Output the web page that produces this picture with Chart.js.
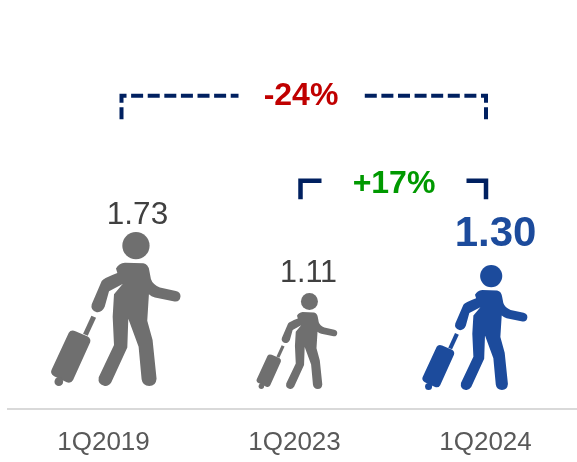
<!DOCTYPE html>
<html>
<head>
<meta charset="utf-8">
<script src="https://cdn.jsdelivr.net/npm/chart.js@4"></script>
<style>
    html, body { margin: 0; padding: 0; background: #fff; overflow: hidden; width: 577px; height: 462px; }
    canvas { display: block; }
</style>
</head>
<body>
<canvas id="travellers" width="581" height="462"></canvas>
<script>
const categories = ['1Q2019', '1Q2023', '1Q2024'];
const travellers = [1.73, 1.11, 1.30];
const valueLabels = ['1.73', '1.11', '1.30'];
const changes = ['-24%', '+17%'];

// the pictograms are not quite placed or sized to scale in the original
const iconColors = ['#6F6F6F', '#6F6F6F', '#1C4B9C'];
const iconScale = [1, 0.972, 1.08];
const iconDx = [12.5, 2.5, -10.5];
const iconDy = [-2, 1, 2];
const labelDx = [34, 14, 10];
const labelGap = [19, 16, 38];
const labelFonts = ['31.5px', '30.5px', 'bold 42px'];
const labelColors = ['#404040', '#404040', '#1C4B9C'];

// outline traced in a 463 tall box, feet at y = 588
const bodyPath = new Path2D('M228 235 Q236 219 255 217 L310 219 Q325 222 328 240 L333 266 Q338 282 360 292 ' +
    'L408 302 Q423 306 422 319 Q420 336 404 334 L345 322 Q334 319 327 312 L322 392 L338 450 L350 566 ' +
    'Q348 588 328 588 Q308 588 305 568 L296 470 L265 386 L262 472 L214 577 Q205 590 194 588 Q172 584 176 562 ' +
    'L222 465 L218 380 L222 312 L248 281 L207 303 L194 350 Q186 368 170 366 Q150 360 155 342 L185 272 Q190 264 232 248 Z');
const casePath = new Path2D('M86 428 Q92 418 106 423 L143 439 Q154 446 150 457 L99 570 Q93 581 80 577 ' +
    'L42 559 Q28 550 35 538 Z');
const handlePath = new Path2D('M154 377 L168 383 L143 437 L129 431 Z');

function drawTraveller(ctx, x, base, height, color) {
    const k = height / 463;
    ctx.save();
    ctx.translate(x, base);
    ctx.scale(k, k);
    ctx.translate(-228, -588);
    ctx.fillStyle = color;
    ctx.beginPath();
    ctx.arc(288, 166, 41, 0, Math.PI * 2);
    ctx.fill();
    ctx.fill(bodyPath);
    ctx.fill(casePath);
    ctx.fill(handlePath);
    ctx.beginPath();
    ctx.arc(56, 575, 13, 0, Math.PI * 2);
    ctx.fill();
    ctx.restore();
}

const pictogramPlugin = {
    id: 'pictograms',
    afterDatasetsDraw(chart) {
        const ctx = chart.ctx;
        chart.getDatasetMeta(0).data.forEach((bar, i) => {
            const h = (bar.base - bar.y) * iconScale[i];
            drawTraveller(ctx, bar.x + iconDx[i], bar.base + iconDy[i], h, iconColors[i]);
            ctx.save();
            ctx.font = labelFonts[i] + ' "Liberation Sans", Arial, sans-serif';
            ctx.fillStyle = labelColors[i];
            ctx.textAlign = 'center';
            ctx.textBaseline = 'middle';
            ctx.fillText(valueLabels[i], bar.x + labelDx[i], bar.y - labelGap[i]);
            ctx.restore();
        });
    }
};

const bracketPlugin = {
    id: 'brackets',
    afterDraw(chart) {
        const ctx = chart.ctx;
        const xs = chart.scales.x;
        const ys = chart.scales.y;
        const t0 = xs.getPixelForValue(0);
        const t1 = xs.getPixelForValue(1);
        const t2 = xs.getPixelForValue(2);

        function line(dash, width, pts) {
            ctx.save();
            ctx.strokeStyle = '#002060';
            ctx.lineWidth = width;
            ctx.lineJoin = 'miter';
            ctx.setLineDash(dash);
            ctx.beginPath();
            pts.forEach((p, i) => i ? ctx.lineTo(p[0], ys.getPixelForValue(p[1])) : ctx.moveTo(p[0], ys.getPixelForValue(p[1])));
            ctx.stroke();
            ctx.restore();
        }
        line([12, 4.6], 4, [[t0 + 18, 3.02], [t0 + 18, 3.285], [t0 + 135, 3.285]]);
        line([12, 4.6], 4, [[t2 + 0.5, 3.02], [t2 + 0.5, 3.285], [t2 - 122, 3.285]]);
        line([], 4.5, [[t1 + 6, 2.12], [t1 + 6, 2.33], [t1 + 27, 2.33]]);
        line([], 4.5, [[t2 + 0.5, 2.12], [t2 + 0.5, 2.33], [t2 - 19, 2.33]]);

        ctx.save();
        ctx.font = 'bold 32px "Liberation Sans", Arial, sans-serif';
        ctx.textAlign = 'center';
        ctx.textBaseline = 'middle';
        ctx.fillStyle = '#C00000';
        ctx.fillText(changes[0], t1 + 6.5, ys.getPixelForValue(3.28));
        ctx.fillStyle = '#009900';
        ctx.fillText(changes[1], t1 + 99.5, ys.getPixelForValue(2.285));
        ctx.restore();
    }
};

new Chart(document.getElementById('travellers'), {
    type: 'bar',
    data: {
        labels: categories,
        datasets: [{
            data: travellers,
            backgroundColor: 'transparent',
            borderWidth: 0
        }]
    },
    options: {
        responsive: false,
        animation: false,
        layout: { padding: { left: 8 } },
        plugins: {
            legend: { display: false },
            tooltip: { enabled: false }
        },
        scales: {
            x: {
                afterFit: scale => { scale.height = 53; },
                grid: { display: false, drawTicks: false },
                border: { color: '#D9D9D9', width: 2 },
                ticks: {
                    color: '#595959',
                    padding: 18,
                    maxRotation: 0,
                    font: { size: 26, family: '"Liberation Sans", Arial, sans-serif' }
                }
            },
            y: {
                display: false,
                min: -0.236,
                max: 4.36
            }
        }
    },
    plugins: [pictogramPlugin, bracketPlugin]
});
</script>
</body>
</html>
